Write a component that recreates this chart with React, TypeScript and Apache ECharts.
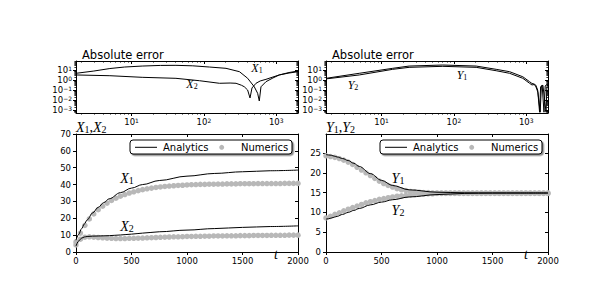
import React, { useEffect, useRef } from 'react';
import * as echarts from 'echarts';

// ---------------- data ----------------
// numerical solution sample times
const tNum = [0, 40, 80, 120, 160, 200, 240, 280, 320, 360, 400, 440, 480, 520, 560, 600, 640, 680, 720, 760, 800, 840, 880, 920, 960, 1000, 1040, 1080, 1120, 1160, 1200, 1240, 1280, 1320, 1360, 1400, 1440, 1480, 1520, 1560, 1600, 1640, 1680, 1720, 1760, 1800, 1840, 1880, 1920, 1960, 2000];
const x1Num = [6.0, 11.2, 15.8, 19.6, 22.6, 25.1, 27.2, 29.0, 30.6, 31.9, 33.1, 34.1, 35.0, 35.7, 36.4, 37.0, 37.5, 37.9, 38.3, 38.6, 38.9, 39.1, 39.3, 39.5, 39.6, 39.8, 39.9, 40.0, 40.1, 40.1, 40.2, 40.2, 40.3, 40.3, 40.4, 40.4, 40.4, 40.5, 40.5, 40.5, 40.5, 40.6, 40.6, 40.6, 40.6, 40.6, 40.6, 40.7, 40.7, 40.7, 40.7];
const x2Num = [4.2, 7.6, 8.8, 9.0, 8.8, 8.6, 8.4, 8.2, 8.1, 8.0, 8.0, 8.0, 8.1, 8.1, 8.2, 8.3, 8.4, 8.5, 8.6, 8.7, 8.8, 8.9, 9.0, 9.0, 9.1, 9.2, 9.2, 9.3, 9.3, 9.4, 9.4, 9.5, 9.5, 9.5, 9.6, 9.6, 9.6, 9.7, 9.7, 9.7, 9.8, 9.8, 9.8, 9.8, 9.9, 9.9, 9.9, 9.9, 10.0, 10.0, 10.0];
const y1Num = [24.3, 24.1, 23.9, 23.6, 23.2, 22.7, 22.1, 21.4, 20.7, 20.0, 19.3, 18.6, 17.9, 17.3, 16.8, 16.4, 16.0, 15.7, 15.5, 15.3, 15.2, 15.1, 15.0, 15.0, 14.9, 14.9, 14.9, 14.9, 14.9, 14.9, 14.9, 14.9, 14.9, 14.9, 14.9, 14.9, 14.9, 14.9, 14.9, 14.9, 14.9, 14.9, 14.9, 14.9, 14.9, 14.9, 14.9, 14.9, 14.9, 14.9, 14.9];
const y2Num = [8.6, 9.0, 9.5, 9.9, 10.4, 10.8, 11.2, 11.6, 12.0, 12.4, 12.7, 13.0, 13.3, 13.5, 13.7, 13.9, 14.1, 14.2, 14.3, 14.4, 14.5, 14.6, 14.6, 14.7, 14.7, 14.8, 14.8, 14.8, 14.8, 14.8, 14.8, 14.8, 14.8, 14.8, 14.8, 14.8, 14.8, 14.8, 14.8, 14.8, 14.8, 14.8, 14.8, 14.8, 14.8, 14.8, 14.8, 14.8, 14.8, 14.8, 14.8];

// analytic solution
const tAna = [0, 25, 50, 75, 100, 150, 200, 250, 300, 400, 500, 600, 750, 1000, 1250, 1500, 1750, 2000];
const x1Ana = [7.0, 10.5, 13.8, 16.6, 19.0, 23.2, 26.5, 29.3, 31.6, 35.2, 37.9, 40.0, 42.4, 45.0, 46.6, 47.6, 48.2, 48.6];
const x2Ana = [3.5, 6.6, 8.2, 8.9, 9.2, 9.4, 9.5, 9.6, 9.7, 10.1, 10.6, 11.2, 12.0, 13.0, 13.9, 14.6, 15.1, 15.5];
const y1Ana = [24.6, 24.5, 24.4, 24.2, 24.0, 23.6, 23.1, 22.4, 21.6, 19.8, 18.1, 16.8, 15.7, 15.1, 14.95, 14.9, 14.9, 14.9];
const y2Ana = [8.3, 8.4, 8.6, 8.8, 9.0, 9.5, 10.0, 10.5, 11.0, 11.9, 12.6, 13.2, 13.9, 14.5, 14.8, 14.9, 14.9, 14.9];

// absolute errors (log-log panels)
const tErrX1 = [1.7, 3, 5, 8, 14, 25, 41, 70, 119, 202, 310, 402, 497, 553, 583, 615, 721, 900, 1100, 1500, 2000];
const errX1 = [4.7, 7.9, 14.1, 20, 25, 28.8, 29.5, 26.3, 20, 14.8, 6.8, 1.5, 0.21, 0.047, 0.008, 0.21, 0.68, 1.6, 3.2, 5.6, 7.9];
const tErrX2 = [1.7, 5, 14, 41, 87, 164, 230, 278, 330, 362, 402, 434, 462, 525, 600, 721, 900, 1100, 1500, 2000];
const errX2 = [3.2, 2.7, 1.86, 1.48, 0.85, 0.47, 0.5, 0.47, 0.3, 0.21, 0.1, 0.016, 0.16, 0.47, 0.8, 1.17, 2.0, 3.2, 5.0, 6.8];
const tErrY1 = [1.7, 4.9, 14.2, 24, 70, 203, 384, 589, 898, 1112, 1200, 1280, 1350, 1440, 1530, 1580, 1660, 1760, 1830, 1910, 2000];
const errY1 = [1.48, 4.7, 14.8, 25, 31.6, 25, 11.7, 6.8, 2.1, 0.68, 0.45, 0.4, 0.32, 0.1, 0.0006, 0.2, 0.3, 0.0006, 0.25, 0.35, 0.4];
const tErrY2 = [1.7, 4.9, 14.2, 24, 70, 203, 384, 589, 898, 1112, 1200, 1280, 1350, 1450, 1560, 1620, 1700, 1880, 1930, 2000];
const errY2 = [1.3, 3.2, 11.7, 18.6, 23.4, 18.6, 8.5, 4.7, 1.48, 0.47, 0.32, 0.35, 0.25, 0.06, 0.0006, 0.25, 0.3, 0.0006, 0.2, 0.32];

// ticks
const linXTicks = [0, 500, 1000, 1500, 2000];
const leftYTicks = [0, 10, 20, 30, 40, 50, 60, 70];
const rightYTicks = [0, 5, 10, 15, 20, 25];
const logXExps = [1, 2, 3];
const logYExps = [-3, -2, -1, 0, 1];

// ---------------- styling ----------------
const SANS = "'DejaVu Sans', sans-serif";
const SERIF = "'Liberation Serif', 'DejaVu Serif', serif";
const BLACK = '#000';
const GRAY = '#b8b8b8';
const LBL = 8.5;

const LOG_X = [1.7, 2000];
const LOG_Y = [5e-4, 80];

const grids = [
  { left: 76, top: 61, width: 222, height: 52 },
  { left: 326, top: 61, width: 222, height: 52 },
  { left: 76, top: 134, width: 222, height: 118 },
  { left: 326, top: 134, width: 222, height: 118 },
];

function minorLog(lo: number, hi: number) {
  const out: number[] = [];
  for (let e = -5; e <= 4; e++) {
    for (let k = 2; k <= 9; k++) {
      const v = k * Math.pow(10, e);
      if (v > lo && v < hi) out.push(v);
    }
  }
  return out;
}

const supRich = {
  b: { fontSize: LBL, fontFamily: SANS, color: BLACK },
  s: { fontSize: 6, fontFamily: SANS, color: BLACK, verticalAlign: 'top', padding: [0, 0, 3, 0] },
};
function supFmt(v: number) {
  const e = Math.round(Math.log10(v));
  return `{b|10}{s|${e < 0 ? '\u2212' + -e : e}}`;
}
const plainFmt = (v: number) => String(v);

const xAxes: any[] = [];
const yAxes: any[] = [];
const axisLine = { show: true, onZero: false, lineStyle: { color: BLACK, width: 1 } };

function addAxis(list: any[], cfg: any) {
  list.push({
    splitLine: { show: false },
    minorTick: { show: false },
    minorSplitLine: { show: false },
    axisPointer: { show: false },
    ...cfg,
  });
  return list.length - 1;
}

type AxisSpec = { log: boolean; min: number; max: number; majors: number[]; minors?: number[]; fmt?: any; margin: number };

function buildAxes(g: number, xs: AxisSpec, ys: AxisSpec) {
  const mk = (list: any[], spec: AxisSpec, pos: string, mirror: boolean) => {
    const base = { gridIndex: g, type: spec.log ? 'log' : 'value', logBase: 10, min: spec.min, max: spec.max, position: pos };
    const idx = addAxis(list, {
      ...base,
      axisLine,
      axisTick: { show: true, inside: mirror, length: 3, lineStyle: { color: BLACK, width: 1 }, customValues: spec.majors },
      axisLabel: mirror
        ? { show: false }
        : {
            show: true,
            margin: spec.margin,
            customValues: spec.majors,
            color: BLACK,
            fontFamily: SANS,
            fontSize: LBL,
            formatter: spec.fmt,
            rich: spec.log ? supRich : undefined,
          },
    });
    if (spec.minors) {
      addAxis(list, {
        ...base,
        axisLine: { show: false },
        axisTick: { show: true, inside: mirror, length: 1.6, lineStyle: { color: BLACK, width: 0.8 }, customValues: spec.minors },
        axisLabel: { show: false },
      });
    }
    return idx;
  };
  const xi = mk(xAxes, xs, 'bottom', false);
  mk(xAxes, xs, 'top', true);
  const yi = mk(yAxes, ys, 'left', false);
  mk(yAxes, ys, 'right', true);
  return [xi, yi];
}

const logXSpec: AxisSpec = {
  log: true, min: LOG_X[0], max: LOG_X[1],
  majors: logXExps.map((e) => Math.pow(10, e)),
  minors: minorLog(LOG_X[0], LOG_X[1]),
  fmt: supFmt, margin: 4,
};
const logYSpec: AxisSpec = {
  log: true, min: LOG_Y[0], max: LOG_Y[1],
  majors: logYExps.map((e) => Math.pow(10, e)),
  minors: minorLog(LOG_Y[0], LOG_Y[1]),
  fmt: supFmt, margin: 4,
};
const linXSpec: AxisSpec = { log: false, min: 0, max: 2000, majors: linXTicks, fmt: plainFmt, margin: 4 };

const [ax0x, ax0y] = buildAxes(0, logXSpec, logYSpec);
const [ax1x, ax1y] = buildAxes(1, logXSpec, logYSpec);
const [ax2x, ax2y] = buildAxes(2, linXSpec, { log: false, min: 0, max: 70, majors: leftYTicks, fmt: plainFmt, margin: 5 });
const [ax3x, ax3y] = buildAxes(3, linXSpec, { log: false, min: 0, max: 29.8, majors: rightYTicks, fmt: plainFmt, margin: 5 });

const zip = (a: number[], b: number[]) => a.map((v, i) => [v, b[i]]);

function line(name: string, xi: number, yi: number, xsv: number[], ysv: number[], smooth: boolean) {
  return {
    type: 'line', name, xAxisIndex: xi, yAxisIndex: yi,
    data: zip(xsv, ysv),
    symbol: 'none', showSymbol: false,
    lineStyle: { color: BLACK, width: 1 },
    itemStyle: { color: BLACK },
    smooth: smooth ? 0.35 : false,
    smoothMonotone: 'x',
    z: 3, silent: true,
  };
}
function dots(name: string, xi: number, yi: number, xsv: number[], ysv: number[]) {
  return {
    type: 'scatter', name, xAxisIndex: xi, yAxisIndex: yi,
    data: zip(xsv, ysv),
    symbol: 'circle', symbolSize: 5.5,
    itemStyle: { color: GRAY, opacity: 1, borderWidth: 0 },
    z: 2, silent: true,
  };
}

// ---------- graphic texts ----------
function mathText(x: number, y: number, parts: string, size: number, align = 'center') {
  return {
    type: 'text', x, y, z: 10, silent: true,
    style: {
      text: parts,
      fill: BLACK,
      textAlign: align, textVerticalAlign: 'middle',
      align, verticalAlign: 'middle',
      rich: {
        i: { fontFamily: SERIF, fontStyle: 'italic', fontSize: size, fill: BLACK },
        c: { fontFamily: SERIF, fontSize: size, fill: BLACK },
        s: { fontFamily: SERIF, fontSize: Math.round(size * 0.68), fill: BLACK, verticalAlign: 'bottom' },
      },
    },
  };
}
function plainText(x: number, y: number, text: string, size: number, align = 'left') {
  return {
    type: 'text', x, y, z: 10, silent: true,
    style: {
      text, fill: BLACK, fontFamily: SANS, fontSize: size, font: `${size}px ${SANS}`,
      textAlign: align, textVerticalAlign: 'middle', align, verticalAlign: 'middle',
    },
  };
}
function legend(x0: number) {
  const y0 = 140, cy = 147.3;
  return {
    type: 'group', z: 20,
    children: [
      { type: 'rect', shape: { x: x0, y: y0, width: 162, height: 14, r: 3 }, style: { fill: '#fff', stroke: BLACK, lineWidth: 1, shadowColor: 'rgba(0,0,0,0.45)', shadowOffsetX: 1.5, shadowOffsetY: 1.5, shadowBlur: 0 } },
      { type: 'line', shape: { x1: x0 + 5, y1: cy, x2: x0 + 27, y2: cy }, style: { stroke: BLACK, lineWidth: 1 } },
      plainText(x0 + 33, cy, 'Analytics', 10),
      { type: 'circle', shape: { cx: x0 + 91.7, cy, r: 2.5 }, style: { fill: GRAY } },
      plainText(x0 + 111, cy, 'Numerics', 10),
    ],
  };
}

const option: any = {
  animation: false,
  backgroundColor: '#fff',
  grid: grids.map((g) => ({ ...g, containLabel: false, outerBoundsMode: 'none', show: false })),
  xAxis: xAxes,
  yAxis: yAxes,
  series: [
    line('X1 error', ax0x, ax0y, tErrX1, errX1, false),
    line('X2 error', ax0x, ax0y, tErrX2, errX2, false),
    line('Y1 error', ax1x, ax1y, tErrY1, errY1, false),
    line('Y2 error', ax1x, ax1y, tErrY2, errY2, false),
    dots('Numerics', ax2x, ax2y, tNum, x1Num),
    dots('Numerics', ax2x, ax2y, tNum, x2Num),
    line('Analytics', ax2x, ax2y, tAna, x1Ana, true),
    line('Analytics', ax2x, ax2y, tAna, x2Ana, true),
    dots('Numerics', ax3x, ax3y, tNum, y1Num),
    dots('Numerics', ax3x, ax3y, tNum, y2Num),
    line('Analytics', ax3x, ax3y, tAna, y1Ana, true),
    line('Analytics', ax3x, ax3y, tAna, y2Ana, true),
  ],
  graphic: [
    plainText(82, 55, 'Absolute error', 11.5),
    plainText(332, 55, 'Absolute error', 11.5),
    mathText(76, 127, '{i|X}{s|1}{c|,}{i|X}{s|2}', 14, 'left'),
    mathText(326, 127, '{i|Y}{s|1}{c|,}{i|Y}{s|2}', 14, 'left'),
    mathText(257, 68, '{i|X}{s|1}', 12),
    mathText(192, 84, '{i|X}{s|2}', 12),
    mathText(462, 75, '{i|Y}{s|1}', 12),
    mathText(353, 85, '{i|Y}{s|2}', 12),
    mathText(127, 178, '{i|X}{s|1}', 14),
    mathText(127, 226, '{i|X}{s|2}', 14),
    mathText(398, 178, '{i|Y}{s|1}', 14),
    mathText(398, 210, '{i|Y}{s|2}', 14),
    mathText(276, 254, '{i|t}', 14),
    mathText(526, 254, '{i|t}', 14),
    legend(130),
    legend(380),
  ],
};

export default function App() {
  const ref = useRef<HTMLDivElement>(null);
  useEffect(() => {
    const chart = echarts.init(ref.current!, null, { renderer: 'svg' });
    chart.setOption(option);
    return () => chart.dispose();
  }, []);
  return <div ref={ref} style={{ position: 'absolute', left: 0, top: 0, width: 609, height: 281 }} />;
}
